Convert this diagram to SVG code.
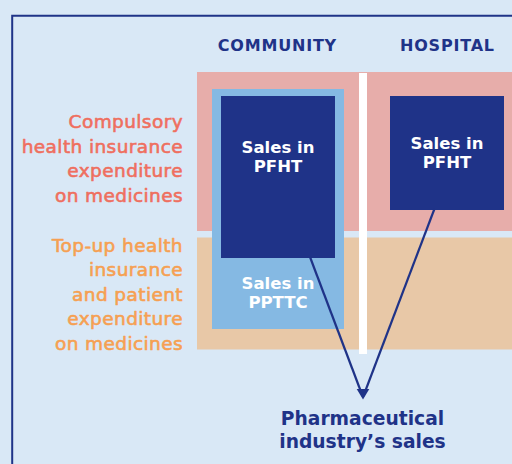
<svg xmlns="http://www.w3.org/2000/svg" width="512" height="464" viewBox="0 0 512 464">
  <style>
    .head { font-family: "DejaVu Sans", "Liberation Sans", sans-serif; font-weight: bold; font-size: 16px; fill: #1f3388; letter-spacing: 0.8px; text-anchor: middle; }
    .box-label { font-family: "DejaVu Sans", "Liberation Sans", sans-serif; font-weight: bold; font-size: 16.5px; fill: #ffffff; text-anchor: middle; }
    .side { font-family: "DejaVu Sans", "Liberation Sans", sans-serif; font-size: 18.5px; letter-spacing: 0.4px; text-anchor: end; stroke-width: 0.6px; stroke-linejoin: round; }
    .compulsory { fill: #ef6f5f; stroke: #ef6f5f; }
    .topup { fill: #f6a052; stroke: #f6a052; }
    .result { font-family: "DejaVu Sans", "Liberation Sans", sans-serif; font-weight: bold; font-size: 18.7px; fill: #1f3388; text-anchor: middle; }
    .conn { stroke: #1f3388; stroke-width: 2.2; fill: none; }
  </style>

  <!-- page background and frame -->
  <rect width="512" height="464" fill="#d9e8f6"/>
  <path d="M12.2 464 V15.7 H512" fill="none" stroke="#1f3388" stroke-width="2"/>

  <!-- funding bands -->
  <g id="band-compulsory">
    <rect x="197" y="72" width="315" height="159" fill="#e7adaa"/>
  </g>
  <g id="band-topup">
    <rect x="197" y="237.5" width="315" height="112" fill="#e8c8a7"/>
  </g>
  <g id="divider">
    <rect x="359" y="73" width="8" height="281" fill="#ffffff"/>
  </g>

  <!-- column headings -->
  <g id="heading-community">
    <text class="head" x="277.4" y="50.7">COMMUNITY</text>
  </g>
  <g id="heading-hospital">
    <text class="head" x="447.4" y="50.7">HOSPITAL</text>
  </g>

  <!-- row labels -->
  <g id="label-compulsory">
    <text class="side compulsory" x="183" y="128.3">Compulsory</text>
    <text class="side compulsory" x="183" y="152.8">health insurance</text>
    <text class="side compulsory" x="183" y="177.3">expenditure</text>
    <text class="side compulsory" x="183" y="201.8">on medicines</text>
  </g>
  <g id="label-topup">
    <text class="side topup" x="183" y="251.7">Top-up health</text>
    <text class="side topup" x="183" y="276.2">insurance</text>
    <text class="side topup" x="183" y="300.8">and patient</text>
    <text class="side topup" x="183" y="325.3">expenditure</text>
    <text class="side topup" x="183" y="349.8">on medicines</text>
  </g>

  <!-- sales boxes -->
  <g id="sales-pptc">
    <rect x="212" y="89" width="132" height="240" fill="#85b9e3"/>
    <text class="box-label" x="278" y="289">Sales in</text>
    <text class="box-label" x="278" y="307.7">PPTTC</text>
  </g>
  <g id="sales-pfht-community">
    <rect x="221" y="96" width="114" height="162" fill="#1f3388"/>
    <text class="box-label" x="278" y="153.3">Sales in</text>
    <text class="box-label" x="278" y="171.7">PFHT</text>
  </g>
  <g id="sales-pfht-hospital">
    <rect x="390" y="96" width="114" height="114" fill="#1f3388"/>
    <text class="box-label" x="447" y="149.3">Sales in</text>
    <text class="box-label" x="447" y="167.7">PFHT</text>
  </g>

  <!-- connectors -->
  <g id="connectors">
    <line class="conn" x1="310" y1="257" x2="362.6" y2="396"/>
    <line class="conn" x1="434.4" y1="209" x2="363.4" y2="396"/>
    <polygon points="356.7,389 369.3,389 363,399.5" fill="#1f3388"/>
  </g>

  <!-- result -->
  <g id="industry-sales">
    <text class="result" x="362.5" y="425">Pharmaceutical</text>
    <text class="result" x="362.5" y="448.3">industry’s sales</text>
  </g>
</svg>
